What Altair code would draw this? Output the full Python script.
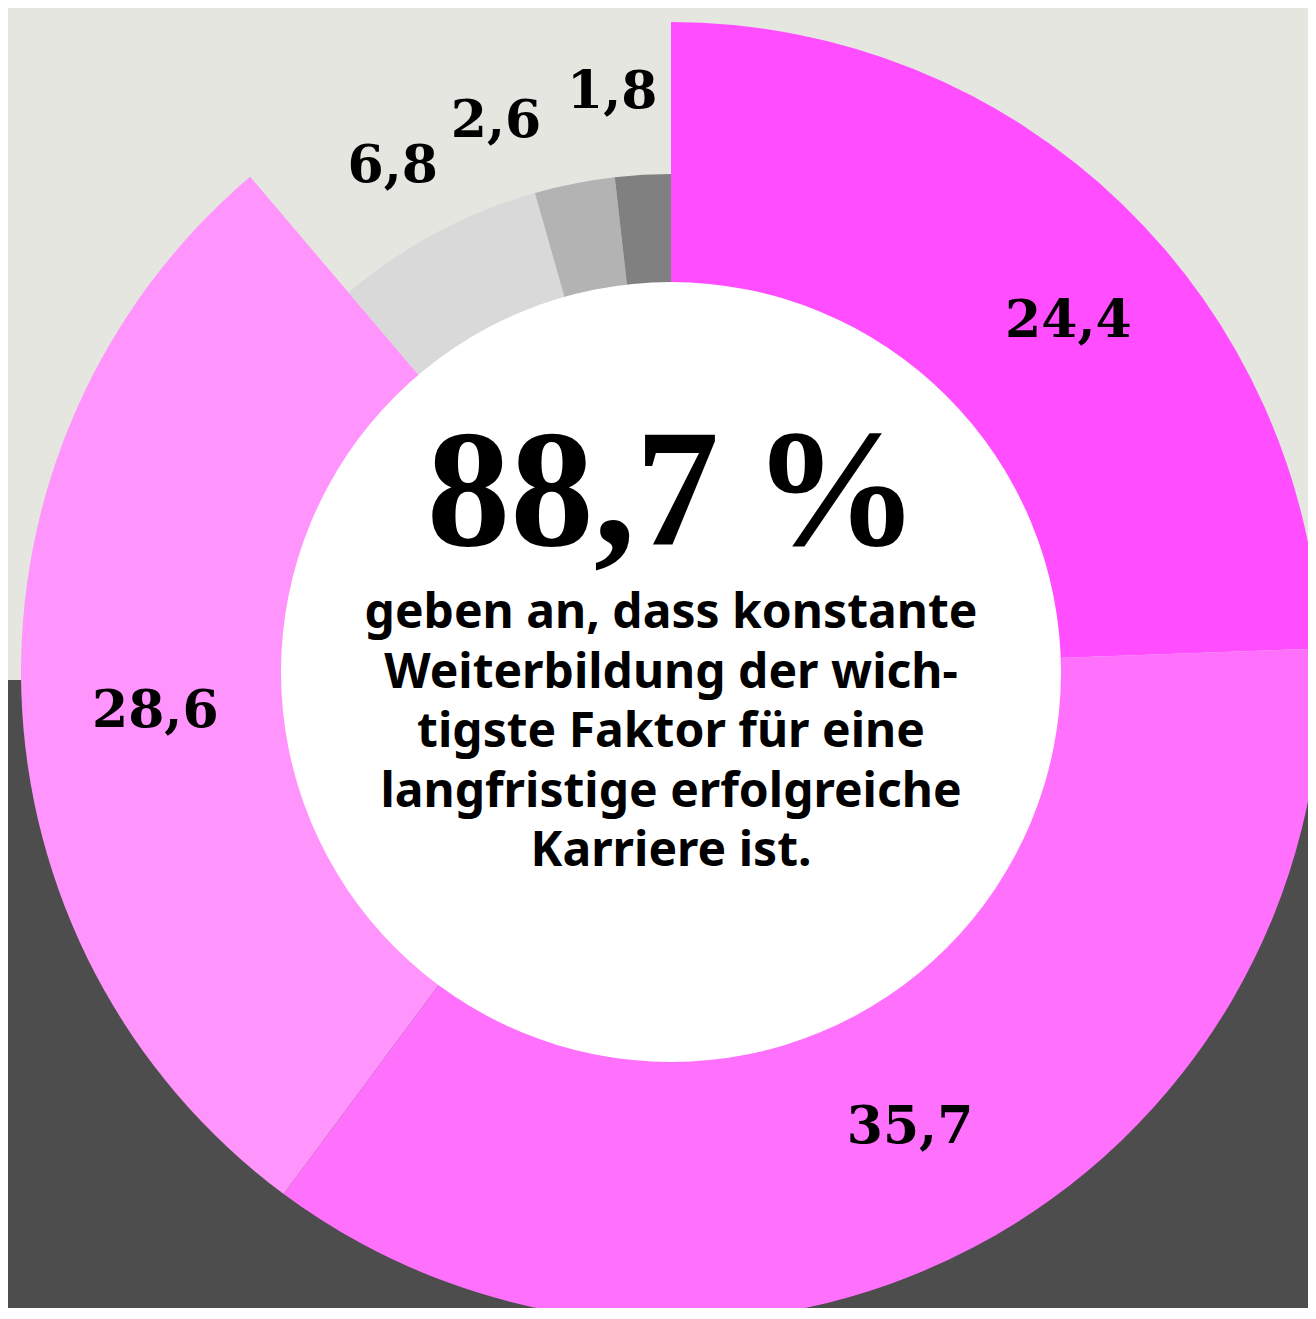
import altair as alt
import pandas as pd

# --- data ---
categories = ["Stufe 1", "Stufe 2", "Stufe 3", "Stufe 4", "Stufe 5", "Stufe 6"]
values = [24.4, 35.7, 28.6, 6.8, 2.6, 1.8]
groups = ["Zustimmung", "Zustimmung", "Zustimmung", "Andere", "Andere", "Andere"]
value_labels = [f"{v:.1f}".replace(".", ",") for v in values]

headline = "88,7\u2009%"
body_lines = [
    "geben an, dass konstante",
    "Weiterbildung der wich-",
    "tigste Faktor für eine",
    "langfristige erfolgreiche",
    "Karriere ist.",
]

# --- styling (kept separate from data) ---
slice_colors = ["#ff4dff", "#ff70fc", "#ff94fc", "#d9d9d9", "#b3b3b3", "#808080"]
label_nudge = [(35, 25), (-4, -7), (6, 22), (-6, 4), (-63, 16), (-26, -3)]

W, H = 1300, 1300
CX, CY = 663, 664
R_PINK, R_GRAY, R_HOLE = 650, 498, 390

df = pd.DataFrame({
    "cat": categories,
    "value": values,
    "group": groups,
    "label": value_labels,
    "idx": list(range(len(values))),
})

theta_scale = alt.Scale(domain=[0, 1], range=[0, 6.283185307179586])

base = alt.Chart(df).transform_joinaggregate(
    total="sum(value)"
).transform_window(
    cum="sum(value)", sort=[alt.SortField("idx")], frame=[None, 0]
).transform_calculate(
    t1="(datum.cum - datum.value) / datum.total",
    t2="datum.cum / datum.total",
    tm="(datum.cum - datum.value / 2) / datum.total",
    r=f"datum.group == 'Zustimmung' ? {R_PINK} : {R_GRAY}",
    lr=f"datum.group == 'Zustimmung' ? {R_PINK - 128} : {R_GRAY + 80}",
)

one = alt.Data(values=[{"v": 1}])

band = alt.Chart(one).mark_rect(color="#4d4d4d").encode(
    x=alt.value(-10), x2=alt.value(W + 10), y=alt.value(CY + 8), y2=alt.value(H + 10)
)

arcs = base.mark_arc(strokeWidth=0).encode(
    theta=alt.Theta("t1:Q", scale=theta_scale),
    theta2="t2:Q",
    radius=alt.Radius("r:Q", scale=None),
    color=alt.Color("cat:N", scale=alt.Scale(domain=categories, range=slice_colors), legend=None),
    x=alt.value(CX),
    y=alt.value(CY),
)

hole = alt.Chart(one).mark_arc(color="white", radius=R_HOLE).encode(
    theta=alt.value(0),
    theta2=alt.value(6.2832),
    x=alt.value(CX),
    y=alt.value(CY),
)

label_layers = []
for i, (ddx, ddy) in enumerate(label_nudge):
    label_layers.append(
        base.transform_filter(f"datum.idx == {i}").mark_text(
            font="DejaVu Serif", fontWeight="bold", fontSize=52,
            color="black", baseline="middle", align="center", dx=ddx, dy=ddy,
        ).encode(
            theta=alt.Theta("tm:Q", scale=theta_scale),
            radius=alt.Radius("lr:Q", scale=None),
            text="label:N",
            x=alt.value(CX),
            y=alt.value(CY),
        )
    )

big = alt.Chart(one).mark_text(
    text=headline, font="Liberation Serif", fontWeight="bold",
    fontSize=167, color="black", align="center", baseline="alphabetic",
).encode(x=alt.value(CX + 2), y=alt.value(537))

body = alt.Chart(one).mark_text(
    text=body_lines, font="Noto Sans", fontWeight="bold", fontSize=48,
    lineHeight=59.5, color="black", align="center", baseline="alphabetic",
).encode(x=alt.value(CX), y=alt.value(620))

chart = alt.layer(band, arcs, hole, *label_layers, big, body).properties(
    width=W, height=H, autosize=alt.AutoSizeParams(type="none"), padding=0,
    background="#e6e6e1",
).configure_view(strokeWidth=0)

chart.save("out.html", embed_options={"renderer": "svg", "actions": False})
